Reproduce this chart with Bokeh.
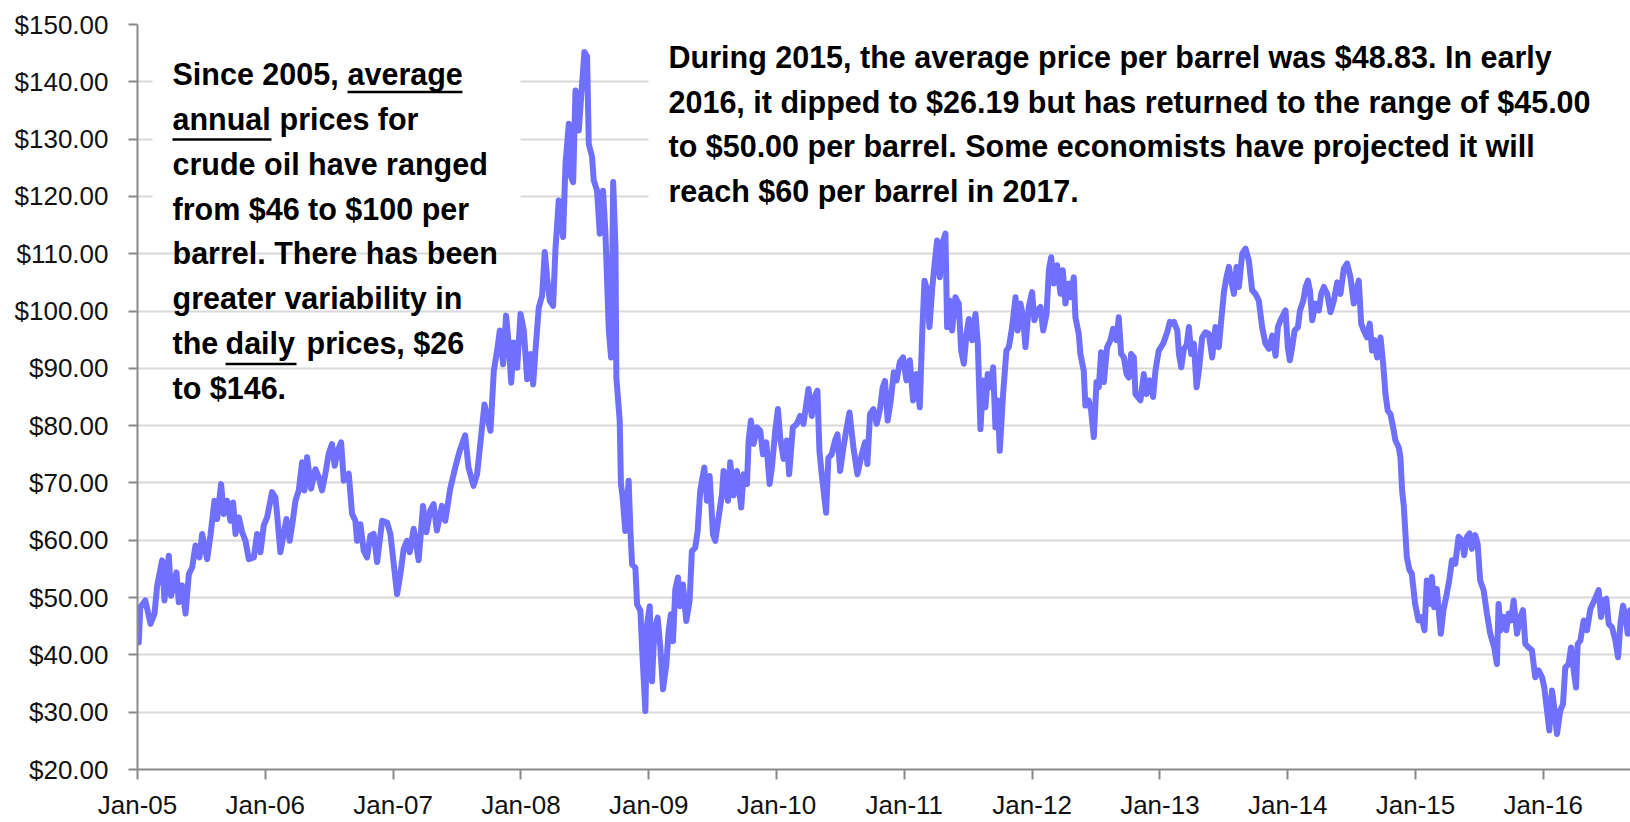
from bokeh.plotting import figure
from bokeh.models import Range1d, FixedTicker, NumeralTickFormatter, Label, BoxAnnotation
from bokeh.embed import file_html
from bokeh.resources import INLINE

# ---------------- data ----------------
# time as decimal year, price in US$ per barrel
dates = [
    2005.010, 2005.022, 2005.061, 2005.102, 2005.133, 2005.154, 2005.193, 2005.211, 2005.245, 2005.263,
    2005.305, 2005.323, 2005.349, 2005.376, 2005.402, 2005.428, 2005.454, 2005.485, 2005.506, 2005.545,
    2005.571, 2005.602, 2005.623, 2005.654, 2005.675, 2005.701, 2005.727, 2005.748, 2005.767, 2005.793,
    2005.819, 2005.845, 2005.871, 2005.910, 2005.936, 2005.962, 2005.988, 2006.014, 2006.053, 2006.079,
    2006.092, 2006.118, 2006.144, 2006.165, 2006.191, 2006.217, 2006.236, 2006.262, 2006.288, 2006.306,
    2006.327, 2006.358, 2006.392, 2006.418, 2006.444, 2006.470, 2006.496, 2006.522, 2006.543, 2006.567,
    2006.593, 2006.614, 2006.653, 2006.679, 2006.705, 2006.718, 2006.744, 2006.770, 2006.796, 2006.822,
    2006.848, 2006.875, 2006.914, 2006.953, 2006.979, 2007.005, 2007.031, 2007.057, 2007.083, 2007.109,
    2007.130, 2007.161, 2007.200, 2007.234, 2007.260, 2007.291, 2007.317, 2007.343, 2007.382, 2007.408,
    2007.447, 2007.486, 2007.525, 2007.564, 2007.590, 2007.629, 2007.657, 2007.697, 2007.715, 2007.762,
    2007.788, 2007.814, 2007.835, 2007.861, 2007.884, 2007.905, 2007.924, 2007.945, 2007.971, 2007.997,
    2008.023, 2008.049, 2008.075, 2008.096, 2008.114, 2008.140, 2008.166, 2008.187, 2008.205, 2008.226,
    2008.252, 2008.270, 2008.296, 2008.330, 2008.349, 2008.375, 2008.393, 2008.409, 2008.427, 2008.453,
    2008.479, 2008.497, 2008.518, 2008.531, 2008.557, 2008.570, 2008.596, 2008.617, 2008.643, 2008.661,
    2008.688, 2008.706, 2008.722, 2008.740, 2008.747, 2008.773, 2008.783, 2008.796, 2008.817, 2008.843,
    2008.857, 2008.870, 2008.896, 2008.909, 2008.935, 2008.948, 2008.974, 2008.987, 2009.008, 2009.026,
    2009.044, 2009.070, 2009.091, 2009.112, 2009.138, 2009.156, 2009.174, 2009.190, 2009.208, 2009.229,
    2009.247, 2009.268, 2009.294, 2009.320, 2009.338, 2009.364, 2009.383, 2009.403, 2009.435, 2009.456,
    2009.477, 2009.503, 2009.521, 2009.547, 2009.573, 2009.586, 2009.620, 2009.638, 2009.664, 2009.690,
    2009.724, 2009.742, 2009.769, 2009.782, 2009.800, 2009.821, 2009.847, 2009.873, 2009.894, 2009.920,
    2009.946, 2009.964, 2009.990, 2010.011, 2010.029, 2010.055, 2010.081, 2010.099, 2010.128, 2010.159,
    2010.185, 2010.211, 2010.250, 2010.276, 2010.302, 2010.320, 2010.336, 2010.354, 2010.388, 2010.406,
    2010.432, 2010.458, 2010.477, 2010.498, 2010.524, 2010.545, 2010.571, 2010.602, 2010.633, 2010.667,
    2010.693, 2010.711, 2010.732, 2010.758, 2010.784, 2010.810, 2010.831, 2010.849, 2010.870, 2010.894,
    2010.918, 2010.940, 2010.965, 2010.990, 2011.017, 2011.043, 2011.069, 2011.095, 2011.121, 2011.140,
    2011.158, 2011.179, 2011.197, 2011.218, 2011.236, 2011.257, 2011.278, 2011.296, 2011.322, 2011.335,
    2011.356, 2011.374, 2011.400, 2011.426, 2011.445, 2011.466, 2011.487, 2011.505, 2011.531, 2011.557,
    2011.575, 2011.596, 2011.617, 2011.635, 2011.653, 2011.674, 2011.695, 2011.713, 2011.731, 2011.747,
    2011.773, 2011.799, 2011.818, 2011.844, 2011.870, 2011.888, 2011.909, 2011.930, 2011.948, 2011.974,
    2012.000, 2012.018, 2012.039, 2012.065, 2012.087, 2012.113, 2012.131, 2012.149, 2012.170, 2012.196,
    2012.222, 2012.240, 2012.261, 2012.287, 2012.305, 2012.326, 2012.339, 2012.365, 2012.378, 2012.404,
    2012.417, 2012.443, 2012.462, 2012.483, 2012.504, 2012.522, 2012.540, 2012.561, 2012.587, 2012.613,
    2012.634, 2012.660, 2012.678, 2012.697, 2012.718, 2012.739, 2012.757, 2012.775, 2012.796, 2012.809,
    2012.827, 2012.848, 2012.874, 2012.895, 2012.921, 2012.947, 2012.965, 2012.991, 2013.025, 2013.057,
    2013.078, 2013.096, 2013.110, 2013.136, 2013.149, 2013.167, 2013.188, 2013.209, 2013.227, 2013.245,
    2013.266, 2013.287, 2013.305, 2013.331, 2013.357, 2013.383, 2013.409, 2013.435, 2013.461, 2013.480,
    2013.501, 2013.521, 2013.540, 2013.558, 2013.579, 2013.600, 2013.618, 2013.644, 2013.670, 2013.696,
    2013.722, 2013.748, 2013.774, 2013.800, 2013.826, 2013.853, 2013.879, 2013.905, 2013.923, 2013.944,
    2013.983, 2014.001, 2014.017, 2014.035, 2014.054, 2014.080, 2014.096, 2014.122, 2014.140, 2014.158,
    2014.174, 2014.192, 2014.218, 2014.244, 2014.262, 2014.283, 2014.309, 2014.335, 2014.361, 2014.387,
    2014.413, 2014.439, 2014.465, 2014.491, 2014.517, 2014.538, 2014.556, 2014.575, 2014.595, 2014.621,
    2014.642, 2014.660, 2014.679, 2014.700, 2014.726, 2014.747, 2014.765, 2014.783, 2014.804, 2014.825,
    2014.843, 2014.869, 2014.882, 2014.895, 2014.908, 2014.932, 2014.953, 2014.971, 2014.997, 2015.023,
    2015.049, 2015.070, 2015.089, 2015.110, 2015.128, 2015.146, 2015.167, 2015.198, 2015.219, 2015.245,
    2015.266, 2015.285, 2015.311, 2015.337, 2015.363, 2015.381, 2015.402, 2015.423, 2015.441, 2015.467,
    2015.486, 2015.506, 2015.533, 2015.559, 2015.585, 2015.616, 2015.637, 2015.650, 2015.668, 2015.689,
    2015.710, 2015.728, 2015.747, 2015.768, 2015.794, 2015.820, 2015.841, 2015.859, 2015.885, 2015.911,
    2015.937, 2015.963, 2015.990, 2016.008, 2016.029, 2016.047, 2016.068, 2016.086, 2016.107, 2016.133,
    2016.154, 2016.172, 2016.198, 2016.217, 2016.238, 2016.256, 2016.269, 2016.290, 2016.316, 2016.342,
    2016.368, 2016.399, 2016.433, 2016.452, 2016.473, 2016.493, 2016.512, 2016.538, 2016.564, 2016.585,
    2016.603, 2016.624, 2016.642, 2016.660, 2016.680,
]
prices = [
    42.2, 48.3, 49.5, 45.4, 47.2, 52.1, 56.5, 49.5, 57.3, 50.3,
    54.4, 49.2, 52.1, 47.2, 54.1, 55.3, 59.1, 57.0, 61.1, 56.7,
    60.8, 66.9, 63.7, 69.8, 64.6, 66.9, 63.4, 66.6, 61.1, 64.0,
    61.4, 59.9, 56.7, 57.0, 61.1, 57.9, 62.6, 64.0, 68.4, 67.5,
    64.6, 57.9, 61.1, 63.7, 59.9, 63.7, 66.9, 68.7, 73.6, 68.7,
    74.5, 69.0, 72.4, 71.0, 68.7, 71.6, 75.1, 76.8, 73.0, 75.6,
    77.1, 70.4, 71.6, 64.6, 63.4, 59.9, 62.8, 58.2, 57.0, 60.8,
    61.1, 56.2, 63.4, 63.1, 61.1, 55.9, 50.6, 54.1, 58.5, 59.9,
    57.9, 62.0, 56.5, 66.0, 61.4, 65.2, 66.3, 61.7, 66.0, 63.4,
    69.0, 72.7, 75.9, 78.3, 72.7, 69.5, 71.5, 79.9, 83.7, 79.1,
    89.6, 93.1, 96.6, 90.7, 99.2, 94.2, 87.5, 94.5, 90.1, 99.5,
    96.6, 88.1, 92.5, 87.2, 93.1, 100.6, 102.7, 110.3, 105.9, 101.8,
    100.9, 110.6, 119.3, 112.9, 125.7, 132.7, 123.4, 122.5, 138.5, 131.5,
    139.7, 145.2, 144.4, 129.2, 126.9, 122.8, 121.0, 113.5, 121.0, 113.8,
    96.6, 91.9, 122.5, 111.1, 88.4, 80.9, 69.8, 67.5, 61.6, 70.4,
    61.6, 55.8, 55.2, 48.8, 47.7, 41.3, 30.2, 45.3, 48.5, 35.4,
    44.2, 46.5, 41.3, 34.0, 38.3, 44.2, 47.1, 42.4, 51.4, 53.5,
    48.5, 52.3, 45.9, 49.4, 58.1, 58.7, 61.6, 68.6, 72.7, 66.9,
    71.2, 61.0, 59.9, 64.0, 68.0, 72.1, 66.9, 73.6, 67.8, 72.1,
    65.7, 71.5, 69.8, 77.4, 80.9, 76.8, 79.7, 79.1, 75.0, 77.1,
    69.8, 72.7, 79.1, 82.9, 77.9, 74.2, 77.4, 71.5, 79.7, 80.3,
    81.7, 80.3, 86.4, 81.7, 85.2, 86.1, 75.6, 71.5, 64.8, 74.4,
    75.0, 77.4, 78.5, 72.1, 76.2, 79.1, 82.3, 76.2, 71.5, 75.0,
    77.1, 73.3, 82.0, 82.9, 80.3, 82.9, 86.7, 87.8, 80.9, 84.4,
    89.3, 87.9, 91.1, 91.9, 87.9, 91.4, 84.4, 89.0, 83.2, 96.0,
    105.3, 103.6, 97.2, 103.9, 108.0, 112.3, 105.9, 111.7, 113.5, 97.2,
    101.8, 96.6, 102.4, 101.3, 93.1, 90.8, 96.0, 98.6, 94.9, 99.5,
    94.3, 79.4, 87.9, 83.2, 89.0, 86.7, 90.2, 79.7, 84.4, 75.6,
    85.5, 93.1, 93.7, 97.2, 102.4, 96.6, 101.3, 98.9, 93.7, 100.7,
    103.3, 98.4, 100.1, 100.7, 96.6, 99.5, 107.1, 109.4, 104.8, 108.0,
    103.0, 107.1, 101.3, 104.8, 102.4, 105.9, 98.9, 96.0, 92.5, 89.6,
    83.5, 84.4, 82.6, 78.0, 87.6, 86.7, 92.8, 87.6, 93.7, 94.9,
    96.9, 94.9, 98.9, 92.5, 91.9, 89.0, 88.4, 92.5, 91.9, 85.5,
    85.0, 84.4, 89.0, 85.5, 87.9, 85.0, 89.6, 93.1, 94.3, 96.3,
    98.1, 97.8, 98.1, 96.6, 92.5, 90.2, 93.4, 94.0, 97.2, 92.5,
    94.3, 86.7, 89.6, 95.4, 96.3, 96.0, 91.9, 97.2, 93.7, 98.4,
    103.3, 105.9, 107.7, 105.3, 103.0, 107.7, 104.2, 110.0, 110.9, 108.8,
    103.6, 103.0, 101.8, 97.2, 94.3, 93.4, 95.7, 92.2, 97.2, 98.4,
    100.1, 93.7, 91.4, 93.7, 96.6, 97.2, 100.1, 101.8, 104.2, 105.3,
    103.6, 98.4, 101.3, 100.1, 103.0, 104.2, 103.0, 99.8, 101.8, 105.0,
    103.0, 107.4, 108.3, 105.9, 101.3, 103.6, 105.3, 97.8, 96.6, 95.4,
    97.8, 93.1, 94.9, 91.9, 95.4, 90.8, 85.5, 82.6, 82.0, 79.7,
    77.4, 76.2, 74.5, 68.7, 66.1, 57.1, 54.8, 54.2, 48.9, 46.0,
    46.6, 44.3, 53.0, 48.9, 53.6, 48.3, 51.5, 43.7, 47.8, 50.7,
    53.3, 56.5, 55.9, 60.6, 60.0, 57.4, 60.6, 61.2, 58.5, 60.9,
    59.4, 53.0, 51.3, 47.2, 43.7, 41.3, 38.4, 48.9, 44.3, 46.6,
    44.3, 47.2, 46.0, 49.5, 43.7, 46.6, 47.8, 41.9, 41.3, 40.8,
    36.1, 37.3, 36.1, 34.3, 30.3, 26.8, 33.8, 30.8, 26.2, 30.3,
    31.4, 37.8, 38.4, 41.3, 37.3, 34.3, 41.9, 42.5, 46.0, 44.3,
    48.0, 49.5, 51.3, 46.6, 49.5, 49.8, 45.4, 44.8, 42.5, 39.6,
    45.4, 48.6, 46.9, 43.7, 47.8,
]

tick_years = [2005, 2006, 2007, 2008, 2009, 2010, 2011, 2012, 2013, 2014, 2015, 2016]
tick_labels = ["Jan-05", "Jan-06", "Jan-07", "Jan-08", "Jan-09", "Jan-10",
               "Jan-11", "Jan-12", "Jan-13", "Jan-14", "Jan-15", "Jan-16"]
price_ticks = [20, 30, 40, 50, 60, 70, 80, 90, 100, 110, 120, 130, 140, 150]

left_note = [
    ["Since 2005, ", "average"],
    ["annual", " prices for"],
    ["crude oil have ranged"],
    ["from $46 to $100 per"],
    ["barrel. There has been"],
    ["greater variability in"],
    ["the ", "daily", " prices, $26"],
    ["to $146."],
]
right_note = [
    "During 2015, the average price per barrel was $48.83. In early",
    "2016, it dipped to $26.19 but has returned to the range of $45.00",
    "to $50.00 per barrel. Some economists have projected it will",
    "reach $60 per barrel in 2017.",
]

# ---------------- layout geometry (page pixels; the figure sits at 0,0) ----------------
W, H = 1630, 822
FRAME_L, FRAME_T, FRAME_B = 137, 24, 769
FRAME_R = W
PX_PER_YEAR = 127.8
Y0, Y1 = 20, 150
PX_PER_USD = (FRAME_B - FRAME_T) / (Y1 - Y0)
TEXT_DY = -10      # measured offset of Bokeh's label baseline
LINE_DY = 4        # measured offset of the underline boxes


def px_x(px):
    return 2005.0 + (px - FRAME_L) / PX_PER_YEAR


def px_y(py):
    return Y0 + (FRAME_B - py) / PX_PER_USD


p = figure(width=W, height=H, output_backend="svg", toolbar_location=None,
           x_range=Range1d(2005.0, px_x(FRAME_R)), y_range=Range1d(Y0, Y1),
           min_border_left=FRAME_L, min_border_right=0,
           min_border_top=FRAME_T, min_border_bottom=H - FRAME_B,
           background_fill_color="white", border_fill_color="white")
p.outline_line_color = None

p.xgrid.visible = False
p.ygrid.grid_line_color = "#d9d9d9"
p.ygrid.grid_line_width = 2
p.ygrid.ticker = FixedTicker(ticks=price_ticks)

AX_COL = "#8a8a8a"
for ax in (p.xaxis[0], p.yaxis[0]):
    ax.axis_line_color = AX_COL
    ax.axis_line_width = 2
    ax.major_tick_line_color = AX_COL
    ax.major_tick_line_width = 2
    ax.major_tick_in = 0
    ax.minor_tick_line_color = None
    ax.major_label_text_font = "Liberation Sans"
    ax.major_label_text_font_size = "26px"
    ax.major_label_text_color = "#111111"

p.xaxis.ticker = FixedTicker(ticks=tick_years)
p.xaxis.major_label_overrides = {y: l for y, l in zip(tick_years, tick_labels)}
p.xaxis.major_tick_out = 10
p.xaxis.major_label_standoff = 10

p.yaxis.ticker = FixedTicker(ticks=price_ticks)
p.yaxis.formatter = NumeralTickFormatter(format="$0.00")
p.yaxis.major_tick_out = 9
p.yaxis.major_label_standoff = 20

p.line(dates, prices, line_width=6, line_color="#7070FF", line_join="round", line_cap="round")

# white note boxes (they hide the grid lines behind the notes)
for l, r, t, b in [(152, 520, 40, 225), (648, 1640, 10, 225)]:
    p.add_layout(BoxAnnotation(left=px_x(l), right=px_x(r), top=px_y(t), bottom=px_y(b),
                               fill_color="white", fill_alpha=1.0, line_color=None))

FONT = "Liberation Sans"
FS = "30.5px"


def note(text, px, py):
    p.add_layout(Label(x=px_x(px), y=px_y(py + TEXT_DY), text=text, text_font=FONT,
                       text_font_size=FS, text_font_style="bold", text_color="black",
                       text_align="left", text_baseline="alphabetic"))


def underline(px0, px1, py):
    py = py + LINE_DY
    p.add_layout(BoxAnnotation(left=px_x(px0), right=px_x(px1), top=px_y(py - 1.3),
                               bottom=px_y(py + 1.3), fill_color="black", fill_alpha=1.0,
                               line_color=None))


# left note
left_x = 172
left_base = [83, 128, 173, 218, 262.5, 307, 352, 397]
seg_x = {
    (0, 1): 347,
    (1, 1): 279,
    (6, 1): 225,
    (6, 2): 306,
}
for i, segs in enumerate(left_note):
    for j, s in enumerate(segs):
        x = seg_x.get((i, j), left_x)
        note(s.strip(), x, left_base[i])
underline(347, 462, 87.5)
underline(172, 271, 135)
underline(225, 296, 359.5)

# right note
right_x = 668
right_base = [66, 111, 155.5, 200]
for i, line in enumerate(right_note):
    note(line, right_x, right_base[i])

open("out.html", "w").write(file_html(p, INLINE))
